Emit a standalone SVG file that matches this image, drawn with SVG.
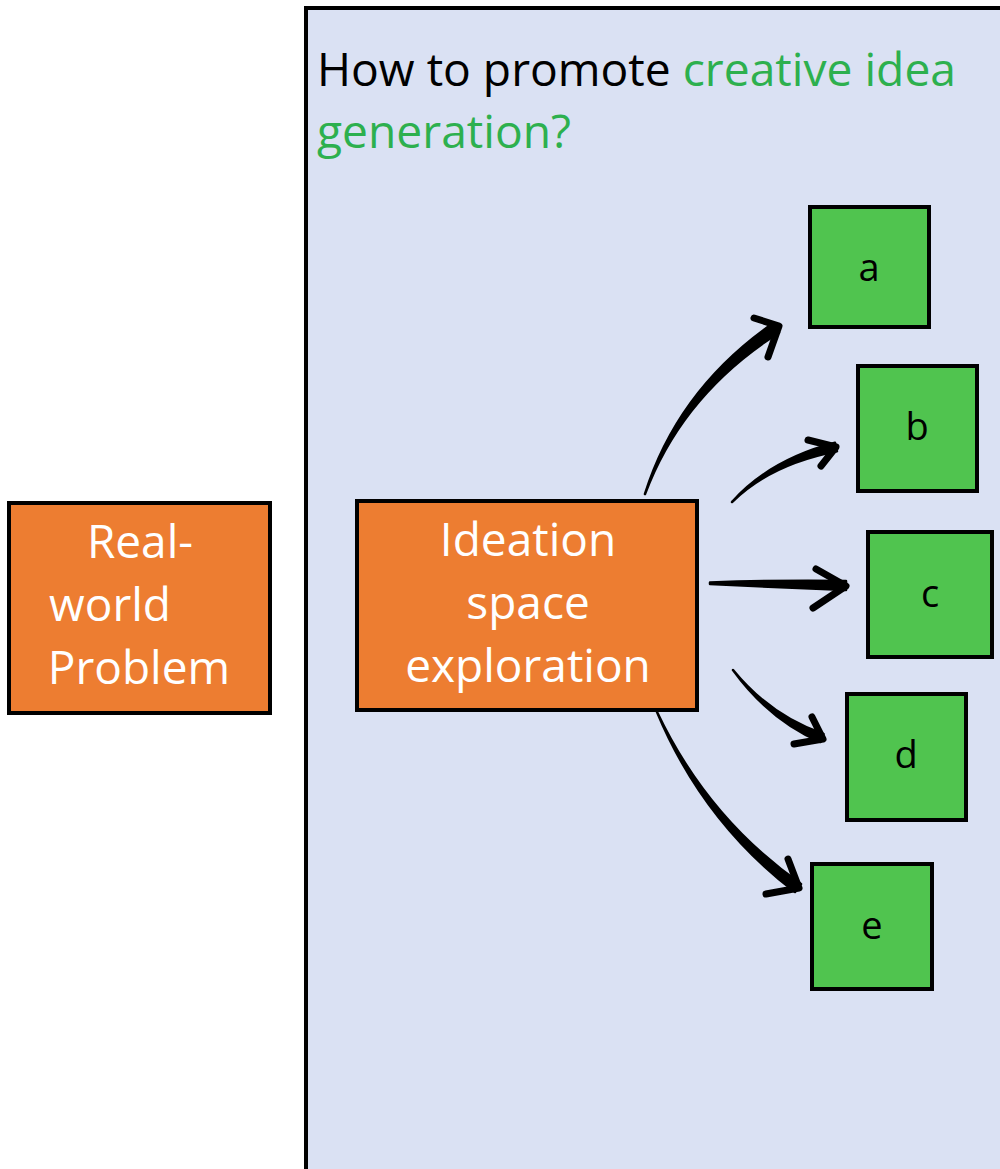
<svg xmlns="http://www.w3.org/2000/svg" width="1000" height="1169" viewBox="0 0 1000 1169">
<style>
.panel{fill:#DAE1F3;stroke:#000;stroke-width:4}
.orange{fill:#ED7D31;stroke:#000;stroke-width:4}
.green{fill:#50C44F;stroke:#000;stroke-width:4}
.wt{font-family:"Open Sans",sans-serif;font-size:46px;fill:#fff;text-anchor:middle}
.lt{font-family:"Open Sans",sans-serif;font-size:38px;fill:#000;text-anchor:middle}
.title{font-family:"Open Sans",sans-serif;font-size:46.2px;fill:#000}
.gt{fill:#2DB04E}
.shaft{fill:#000;stroke:#000;stroke-width:2.5;stroke-linejoin:round}
.head{fill:none;stroke:#000;stroke-width:7;stroke-linecap:round;stroke-linejoin:round}
</style>
<rect x="0" y="0" width="1000" height="1169" fill="#fff"/>
<g id="panel">
<rect class="panel" x="306" y="8" width="710" height="1180"/>
<text class="title" x="317" y="86">How to promote <tspan class="gt">creative idea</tspan></text>
<text class="title gt" x="317" y="148">generation?</text>
</g>
<g id="real-world-problem">
<rect class="orange" x="9" y="503" width="261" height="210"/>
<text class="wt" x="140" y="558">Real-</text>
<text class="wt" x="110" y="621">world</text>
<text class="wt" x="139" y="684">Problem</text>
</g>
<g id="ideation">
<rect class="orange" x="357" y="501" width="340" height="209"/>
<text class="wt" x="528" y="556">Ideation</text>
<text class="wt" x="528" y="619">space</text>
<text class="wt" x="528" y="682">exploration</text>
</g>
<g id="node-a"><rect class="green" x="810" y="207" width="119" height="120"/><text class="lt" x="869" y="281">a</text></g>
<g id="node-b"><rect class="green" x="858" y="366" width="119" height="125"/><text class="lt" x="917" y="440">b</text></g>
<g id="node-c"><rect class="green" x="868" y="532" width="124" height="125"/><text class="lt" x="930" y="607">c</text></g>
<g id="node-d"><rect class="green" x="847" y="694" width="119" height="126"/><text class="lt" x="906" y="768">d</text></g>
<g id="node-e"><rect class="green" x="812" y="864" width="120" height="125"/><text class="lt" x="872" y="939">e</text></g>
<g id="connectors">
<path class="shaft" d="M645,494 Q682,394.5 779,332.6 L773,323.4 Q678,389.5 645,494 Z"/>
<path class="head" d="M754,318 L779,326 L768,357"/>
<path class="shaft" d="M732,502 Q770.4,464 837,451.2 L835,442.8 Q769.6,460 732,502 Z"/>
<path class="head" d="M808,440 L836,447 L821,466"/>
<path class="shaft" d="M710,582.5 Q780,580 846,581 L846,590 Q780,587.5 710,584 Z"/>
<path class="head" d="M816,569 L846,586 L813,608"/>
<path class="shaft" d="M733,670 Q769.4,720 820.5,742 L823.5,734 Q770.6,716 733,670 Z"/>
<path class="head" d="M812,717 L823,739 L794,744"/>
<path class="shaft" d="M657,712 Q703,822 795,892 L801,884 Q707,818 657,712 Z"/>
<path class="head" d="M788,859 L799,888 L766,894"/>
</g>
</svg>
